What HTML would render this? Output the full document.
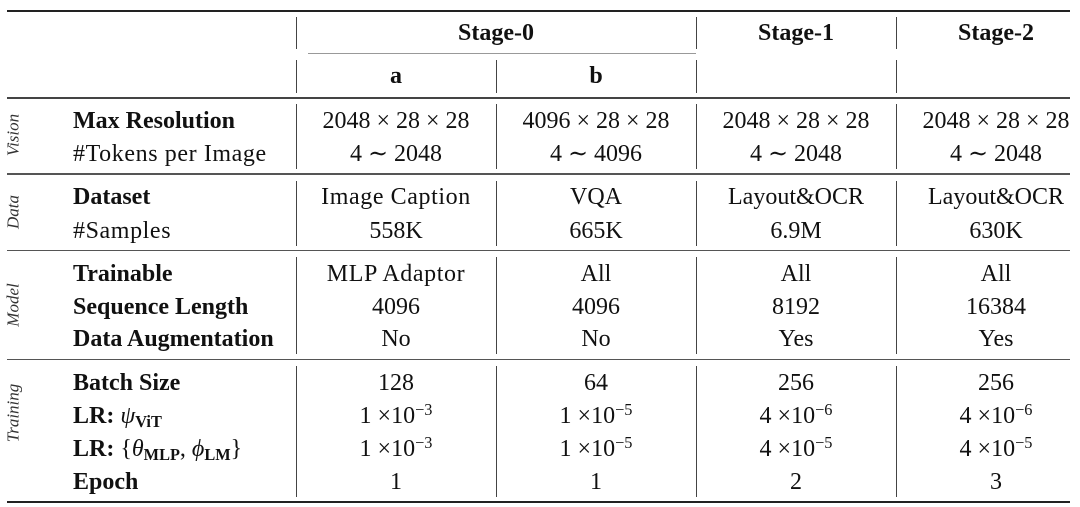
<!DOCTYPE html>
<html><head><meta charset="utf-8">
<style>
html,body{margin:0;padding:0;background:#fff;}
#c{position:relative;width:1080px;height:507px;overflow:hidden;background:#fff;font-family:"Liberation Serif","DejaVu Serif",serif;color:#111;}
.h{position:absolute;left:7px;width:1063px;}
.v{position:absolute;width:1px;background:#444;}
.t{position:absolute;font-size:24px;line-height:30px;height:30px;white-space:nowrap;}
.l{left:73px;}
.c{transform:translateX(-50%);}
.b{font-weight:bold;}
.ls{letter-spacing:0.6px;}
.r{position:absolute;font-size:17px;font-style:italic;color:#333;white-space:nowrap;line-height:17px;transform:translate(-50%,-50%) rotate(-90deg);}
.sup{font-size:0.68em;position:relative;top:-0.5em;}
.sub{font-size:0.68em;position:relative;top:0.25em;font-weight:bold;}
.i{font-style:italic;}
</style></head><body>
<div id="c">
<!-- horizontal rules -->
<div class="h" style="top:10px;height:2px;background:#222;"></div>
<div style="position:absolute;left:308px;width:388px;top:52.5px;height:1.5px;background:#999;"></div>
<div class="h" style="top:97px;height:1.5px;background:#444;"></div>
<div class="h" style="top:173px;height:1.5px;background:#555;"></div>
<div class="h" style="top:249.5px;height:1.5px;background:#555;"></div>
<div class="h" style="top:358.5px;height:1.5px;background:#555;"></div>
<div class="h" style="top:500.5px;height:2px;background:#222;"></div>

<!-- vertical lines -->
<div class="v" style="left:296px;top:17px;height:32px;"></div>
<div class="v" style="left:696px;top:17px;height:32px;"></div>
<div class="v" style="left:896px;top:17px;height:32px;"></div>

<div class="v" style="left:296px;top:60px;height:33px;"></div>
<div class="v" style="left:496px;top:60px;height:33px;"></div>
<div class="v" style="left:696px;top:60px;height:33px;"></div>
<div class="v" style="left:896px;top:60px;height:33px;"></div>

<div class="v" style="left:296px;top:104px;height:65px;"></div>
<div class="v" style="left:496px;top:104px;height:65px;"></div>
<div class="v" style="left:696px;top:104px;height:65px;"></div>
<div class="v" style="left:896px;top:104px;height:65px;"></div>

<div class="v" style="left:296px;top:181px;height:65px;"></div>
<div class="v" style="left:496px;top:181px;height:65px;"></div>
<div class="v" style="left:696px;top:181px;height:65px;"></div>
<div class="v" style="left:896px;top:181px;height:65px;"></div>

<div class="v" style="left:296px;top:257px;height:97px;"></div>
<div class="v" style="left:496px;top:257px;height:97px;"></div>
<div class="v" style="left:696px;top:257px;height:97px;"></div>
<div class="v" style="left:896px;top:257px;height:97px;"></div>

<div class="v" style="left:296px;top:366px;height:131px;"></div>
<div class="v" style="left:496px;top:366px;height:131px;"></div>
<div class="v" style="left:696px;top:366px;height:131px;"></div>
<div class="v" style="left:896px;top:366px;height:131px;"></div>

<!-- headers -->
<div class="t b c" style="left:496px;top:18px;">Stage-0</div>
<div class="t b c" style="left:796px;top:18px;">Stage-1</div>
<div class="t b c" style="left:996px;top:18px;">Stage-2</div>
<div class="t b c" style="left:396px;top:61px;">a</div>
<div class="t b c" style="left:596px;top:61px;">b</div>

<!-- rotated group labels -->
<div class="r" style="left:13px;top:135px;">Vision</div>
<div class="r" style="left:13px;top:212px;">Data</div>
<div class="r" style="left:13px;top:305px;">Model</div>
<div class="r" style="left:13px;top:413px;">Training</div>

<!-- Vision -->
<div class="t b l" style="top:106px;">Max Resolution</div>
<div class="t l ls" style="top:139px;">#Tokens per Image</div>
<div class="t c" style="left:396px;top:106px;">2048 × 28 × 28</div>
<div class="t c" style="left:596px;top:106px;">4096 × 28 × 28</div>
<div class="t c" style="left:796px;top:106px;">2048 × 28 × 28</div>
<div class="t c" style="left:996px;top:106px;">2048 × 28 × 28</div>
<div class="t c" style="left:396px;top:139px;">4 ∼ 2048</div>
<div class="t c" style="left:596px;top:139px;">4 ∼ 4096</div>
<div class="t c" style="left:796px;top:139px;">4 ∼ 2048</div>
<div class="t c" style="left:996px;top:139px;">4 ∼ 2048</div>

<!-- Data -->
<div class="t b l" style="top:182px;">Dataset</div>
<div class="t l ls" style="top:216px;">#Samples</div>
<div class="t c ls" style="left:396px;top:182px;">Image Caption</div>
<div class="t c" style="left:596px;top:182px;">VQA</div>
<div class="t c" style="left:796px;top:182px;">Layout&amp;OCR</div>
<div class="t c" style="left:996px;top:182px;">Layout&amp;OCR</div>
<div class="t c" style="left:396px;top:216px;">558K</div>
<div class="t c" style="left:596px;top:216px;">665K</div>
<div class="t c" style="left:796px;top:216px;">6.9M</div>
<div class="t c" style="left:996px;top:216px;">630K</div>

<!-- Model -->
<div class="t b l" style="top:259px;">Trainable</div>
<div class="t b l" style="top:292px;">Sequence Length</div>
<div class="t b l" style="top:324px;">Data Augmentation</div>
<div class="t c ls" style="left:396px;top:259px;">MLP Adaptor</div>
<div class="t c" style="left:596px;top:259px;">All</div>
<div class="t c" style="left:796px;top:259px;">All</div>
<div class="t c" style="left:996px;top:259px;">All</div>
<div class="t c" style="left:396px;top:292px;">4096</div>
<div class="t c" style="left:596px;top:292px;">4096</div>
<div class="t c" style="left:796px;top:292px;">8192</div>
<div class="t c" style="left:996px;top:292px;">16384</div>
<div class="t c" style="left:396px;top:324px;">No</div>
<div class="t c" style="left:596px;top:324px;">No</div>
<div class="t c" style="left:796px;top:324px;">Yes</div>
<div class="t c" style="left:996px;top:324px;">Yes</div>

<!-- Training -->
<div class="t b l" style="top:368px;">Batch Size</div>
<div class="t l" style="top:401px;"><b>LR:</b> <span class="i">ψ</span><span class="sub">ViT</span></div>
<div class="t l" style="top:434px;"><b>LR:</b> {<span class="i">θ</span><span class="sub">MLP</span>, <span class="i">ϕ</span><span class="sub">LM</span>}</div>
<div class="t b l" style="top:467px;">Epoch</div>

<div class="t c" style="left:396px;top:368px;">128</div>
<div class="t c" style="left:596px;top:368px;">64</div>
<div class="t c" style="left:796px;top:368px;">256</div>
<div class="t c" style="left:996px;top:368px;">256</div>

<div class="t c" style="left:396px;top:401px;">1 ×10<span class="sup">−3</span></div>
<div class="t c" style="left:596px;top:401px;">1 ×10<span class="sup">−5</span></div>
<div class="t c" style="left:796px;top:401px;">4 ×10<span class="sup">−6</span></div>
<div class="t c" style="left:996px;top:401px;">4 ×10<span class="sup">−6</span></div>

<div class="t c" style="left:396px;top:434px;">1 ×10<span class="sup">−3</span></div>
<div class="t c" style="left:596px;top:434px;">1 ×10<span class="sup">−5</span></div>
<div class="t c" style="left:796px;top:434px;">4 ×10<span class="sup">−5</span></div>
<div class="t c" style="left:996px;top:434px;">4 ×10<span class="sup">−5</span></div>

<div class="t c" style="left:396px;top:467px;">1</div>
<div class="t c" style="left:596px;top:467px;">1</div>
<div class="t c" style="left:796px;top:467px;">2</div>
<div class="t c" style="left:996px;top:467px;">3</div>
</div>
</body></html>
